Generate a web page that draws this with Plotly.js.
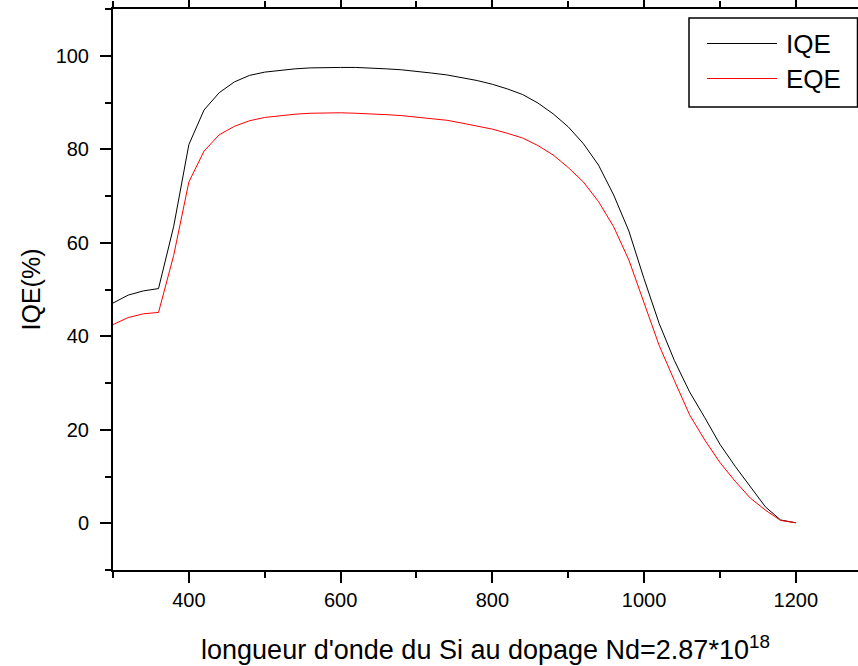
<!DOCTYPE html>
<html>
<head>
<meta charset="utf-8">
<script src="https://cdn.plot.ly/plotly-3.0.1.min.js"></script>
<style>html,body{margin:0;padding:0;background:#fff;}#chart{width:858px;height:666px;}</style>
</head>
<body>
<div id="chart"></div>
<script>
const wavelength = [300,320,340,360,380,400,420,440,460,480,500,520,540,560,580,600,620,640,660,680,700,720,740,760,780,800,820,840,860,880,900,920,940,960,980,1000,1020,1040,1060,1080,1100,1120,1140,1160,1180,1200];
const iqe = [47.1,48.8,49.7,50.2,63.5,81.0,88.4,92.1,94.4,95.8,96.5,96.9,97.2,97.4,97.5,97.5,97.5,97.4,97.2,97.0,96.7,96.3,95.9,95.3,94.7,93.9,92.9,91.7,89.9,87.6,84.8,81.2,76.6,70.2,62.5,52.3,42.7,34.8,28.1,22.6,16.9,12.2,7.8,3.5,0.7,0.1];
const eqe = [42.5,44.0,44.8,45.1,57.3,73.0,79.6,83.1,84.9,86.1,86.8,87.2,87.5,87.7,87.8,87.8,87.7,87.6,87.4,87.2,86.9,86.6,86.2,85.6,85.0,84.3,83.4,82.4,80.8,78.8,76.1,73.0,68.8,63.4,56.3,47.3,38.0,30.5,23.2,17.8,13.0,9.0,5.4,2.8,0.6,0.1];
const seriesNames = ['IQE','EQE'];
const xTicks = [400,600,800,1000,1200];
const yTicks = [0,20,40,60,80,100];

const W = 858, H = 666;
const M = {l:113, r:0, t:9, b:96};
const PW = W - M.l - M.r, PH = H - M.t - M.b;
const px = x => (x - M.l) / PW;
const py = y => (H - M.b - y) / PH;
const FONT = '"Liberation Sans", Arial, Helvetica, sans-serif';

const traces = [
  {x: wavelength, y: iqe, name: seriesNames[0], mode: 'lines', line: {color: '#000000', width: 1}, showlegend: false},
  {x: wavelength, y: eqe, name: seriesNames[1], mode: 'lines', line: {color: '#ff0000', width: 1}, showlegend: false}
];

const shapes = [
  {type: 'rect', xref: 'paper', yref: 'paper', x0: px(689), x1: px(857.5), y0: py(107), y1: py(18), line: {color: '#000', width: 1.5}, fillcolor: 'rgba(0,0,0,0)'},
  {type: 'line', xref: 'paper', yref: 'paper', x0: px(707), x1: px(777), y0: py(43.5), y1: py(43.5), line: {color: '#000', width: 1}},
  {type: 'line', xref: 'paper', yref: 'paper', x0: px(707), x1: px(777), y0: py(78.5), y1: py(78.5), line: {color: '#ff0000', width: 1}}
];
const annotations = [
  {xref: 'paper', yref: 'paper', x: px(784), y: py(44), xanchor: 'left', yanchor: 'middle', text: seriesNames[0], showarrow: false, font: {family: FONT, size: 26, color: '#000'}},
  {xref: 'paper', yref: 'paper', x: px(784), y: py(79), xanchor: 'left', yanchor: 'middle', text: seriesNames[1], showarrow: false, font: {family: FONT, size: 26, color: '#000'}}
];

const layout = {
  width: W, height: H,
  margin: M,
  paper_bgcolor: '#fff', plot_bgcolor: '#fff',
  font: {family: FONT, color: '#000'},
  showlegend: false,
  xaxis: {
    range: [300, 1282],
    tickvals: xTicks, ticktext: xTicks.map(String),
    ticks: 'outside', ticklen: 11, tickwidth: 2, tickcolor: '#000',
    minor: {dtick: 100, tick0: 0, ticks: 'outside', ticklen: 6, tickwidth: 2, tickcolor: '#000'},
    showline: true, linecolor: '#000', linewidth: 2, mirror: 'ticks',
    showgrid: false, zeroline: false,
    tickfont: {family: FONT, size: 20, color: '#000'},
    title: {text: "longueur d'onde du Si au dopage Nd=2.87*10<sup>18</sup>", font: {family: FONT, size: 27, color: '#000'}, standoff: 30}
  },
  yaxis: {
    range: [-10, 110],
    tickvals: yTicks, ticktext: yTicks.map(String),
    ticks: 'outside', ticklen: 11, tickwidth: 2, tickcolor: '#000',
    ticklabelstandoff: 7,
    minor: {dtick: 10, tick0: 0, ticks: 'outside', ticklen: 6, tickwidth: 2, tickcolor: '#000'},
    showline: true, linecolor: '#000', linewidth: 2, mirror: false,
    showgrid: false, zeroline: false,
    tickfont: {family: FONT, size: 20, color: '#000'},
    title: {text: 'IQE(%)', font: {family: FONT, size: 25, color: '#000'}, standoff: 8}
  },
  shapes: shapes,
  annotations: annotations
};

Plotly.newPlot('chart', traces, layout, {displayModeBar: false, staticPlot: true});
</script>
</body>
</html>
